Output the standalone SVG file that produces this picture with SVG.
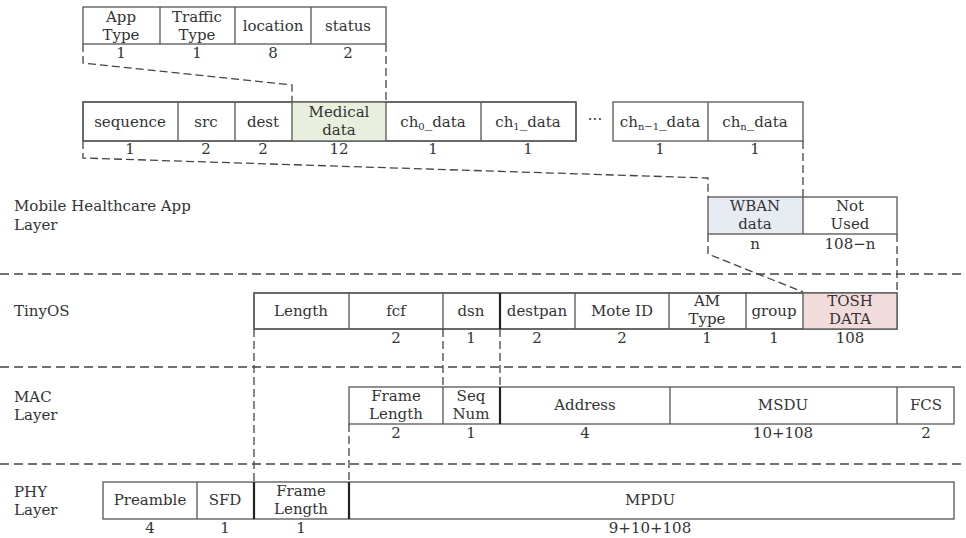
<svg xmlns="http://www.w3.org/2000/svg" width="966" height="538" viewBox="0 0 966 538">
  <style>
    text { font-family: "DejaVu Serif", "Liberation Serif", serif; font-size: 15px; fill: #333; text-anchor: middle; }
    text.lbl { text-anchor: start; }
    .cell { fill: #fff; stroke: #555; stroke-width: 1.3; }
    .frame { fill: none; stroke: #555; stroke-width: 1.3; }
    .div { stroke: #555; stroke-width: 1.3; }
    .thick { stroke: #222; stroke-width: 2.2; }
    .dash { fill: none; stroke: #444; stroke-width: 1.3; stroke-dasharray: 8 4; }
    .sep { fill: none; stroke: #444; stroke-width: 1.3; stroke-dasharray: 9 5; }
    .sub { font-size: 10px; }
    .green { fill: #e9efdd; }
    .blue { fill: #e7ecf3; }
    .pink { fill: #f2dcdb; }
  </style>

  <!-- layer separators -->
  <g id="separators">
    <line class="sep" x1="0" y1="274" x2="966" y2="274"/>
    <line class="sep" x1="0" y1="367" x2="966" y2="367"/>
    <line class="sep" x1="0" y1="464" x2="966" y2="464"/>
  </g>

  <!-- layer labels -->
  <g id="layer-labels">
    <text class="lbl" x="14" y="211">Mobile Healthcare App</text>
    <text class="lbl" x="14" y="230">Layer</text>
    <text class="lbl" x="14" y="316">TinyOS</text>
    <text class="lbl" x="14" y="402">MAC</text>
    <text class="lbl" x="14" y="420">Layer</text>
    <text class="lbl" x="14" y="497">PHY</text>
    <text class="lbl" x="14" y="515">Layer</text>
  </g>

  <!-- dashed expansion guides -->
  <g id="connectors">
    <polyline class="dash" points="83,44 83,63 292,85 292,102"/>
    <line class="dash" x1="386" y1="44" x2="386" y2="102"/>
    <polyline class="dash" points="83,141 83,158 708,178 708,197"/>
    <line class="dash" x1="803" y1="141" x2="803" y2="197"/>
    <polyline class="dash" points="708,234 708,254 803,292"/>
    <line class="dash" x1="897" y1="234" x2="897" y2="292"/>
    <line class="dash" x1="254" y1="329" x2="254" y2="482"/>
    <line class="dash" x1="443" y1="329" x2="443" y2="387"/>
    <line class="dash" x1="500" y1="329" x2="500" y2="387"/>
    <line class="dash" x1="349" y1="424" x2="349" y2="482"/>
  </g>

  <!-- medical data header -->
  <g id="medical-header">
    <rect class="cell" x="83" y="7" width="303" height="37"/>
    <line class="div" x1="160" y1="7" x2="160" y2="44"/>
    <line class="div" x1="235" y1="7" x2="235" y2="44"/>
    <line class="div" x1="311" y1="7" x2="311" y2="44"/>
    <text x="121" y="22">App</text>
    <text x="121" y="40">Type</text>
    <text x="197" y="22">Traffic</text>
    <text x="197" y="40">Type</text>
    <text x="273" y="31">location</text>
    <text x="348" y="31">status</text>
    <text x="121" y="58">1</text>
    <text x="197" y="58">1</text>
    <text x="273" y="58">8</text>
    <text x="348" y="58">2</text>
  </g>

  <!-- WBAN packet -->
  <g id="wban-packet">
    <rect class="cell" x="83" y="102" width="493" height="39"/>
    <rect class="green" x="292" y="102" width="94" height="39"/>
    <rect class="frame" x="83" y="102" width="493" height="39"/>
    <line class="div" x1="178" y1="102" x2="178" y2="141"/>
    <line class="div" x1="235" y1="102" x2="235" y2="141"/>
    <line class="div" x1="292" y1="102" x2="292" y2="141"/>
    <line class="div" x1="386" y1="102" x2="386" y2="141"/>
    <line class="div" x1="481" y1="102" x2="481" y2="141"/>
    <rect class="cell" x="613" y="102" width="190" height="39"/>
    <line class="div" x1="708" y1="102" x2="708" y2="141"/>
    <text x="130" y="127">sequence</text>
    <text x="206" y="127">src</text>
    <text x="263" y="127">dest</text>
    <text x="339" y="117">Medical</text>
    <text x="339" y="135">data</text>
    <text x="433" y="127">ch<tspan class="sub" dy="3">0</tspan><tspan dy="-3">_data</tspan></text>
    <text x="528" y="127">ch<tspan class="sub" dy="3">1</tspan><tspan dy="-3">_data</tspan></text>
    <text x="595" y="124">···</text>
    <text x="660" y="127">ch<tspan class="sub" dy="3">n−1</tspan><tspan dy="-3">_data</tspan></text>
    <text x="755" y="127">ch<tspan class="sub" dy="3">n</tspan><tspan dy="-3">_data</tspan></text>
    <text x="130" y="154">1</text>
    <text x="206" y="154">2</text>
    <text x="263" y="154">2</text>
    <text x="339" y="154">12</text>
    <text x="433" y="154">1</text>
    <text x="528" y="154">1</text>
    <text x="660" y="154">1</text>
    <text x="755" y="154">1</text>
  </g>

  <!-- app payload -->
  <g id="app-payload">
    <rect class="blue" x="708" y="197" width="95" height="37"/>
    <rect class="frame" x="708" y="197" width="189" height="37"/>
    <line class="div" x1="803" y1="197" x2="803" y2="234"/>
    <text x="755" y="211">WBAN</text>
    <text x="755" y="229">data</text>
    <text x="850" y="211">Not</text>
    <text x="850" y="229">Used</text>
    <text x="755" y="249">n</text>
    <text x="850" y="249">108−n</text>
  </g>

  <!-- TinyOS message -->
  <g id="tinyos-msg">
    <rect class="cell" x="254" y="293" width="643" height="36"/>
    <rect class="pink" x="803" y="293" width="94" height="36"/>
    <rect class="frame" x="254" y="293" width="643" height="36"/>
    <line class="div" x1="349" y1="293" x2="349" y2="329"/>
    <line class="div" x1="443" y1="293" x2="443" y2="329"/>
    <line class="thick" x1="500" y1="293" x2="500" y2="329"/>
    <line class="div" x1="575" y1="293" x2="575" y2="329"/>
    <line class="div" x1="669" y1="293" x2="669" y2="329"/>
    <line class="div" x1="746" y1="293" x2="746" y2="329"/>
    <line class="div" x1="803" y1="293" x2="803" y2="329"/>
    <text x="301" y="316">Length</text>
    <text x="396" y="316">fcf</text>
    <text x="471" y="316">dsn</text>
    <text x="537" y="316">destpan</text>
    <text x="622" y="316">Mote ID</text>
    <text x="707" y="306">AM</text>
    <text x="707" y="324">Type</text>
    <text x="774" y="316">group</text>
    <text x="850" y="306">TOSH</text>
    <text x="850" y="324">DATA</text>
    <text x="396" y="343">2</text>
    <text x="471" y="343">1</text>
    <text x="537" y="343">2</text>
    <text x="622" y="343">2</text>
    <text x="707" y="343">1</text>
    <text x="774" y="343">1</text>
    <text x="850" y="343">108</text>
  </g>

  <!-- MAC frame -->
  <g id="mac-frame">
    <rect class="cell" x="349" y="387" width="605" height="37"/>
    <line class="div" x1="443" y1="387" x2="443" y2="424"/>
    <line class="thick" x1="500" y1="387" x2="500" y2="424"/>
    <line class="div" x1="670" y1="387" x2="670" y2="424"/>
    <line class="div" x1="897" y1="387" x2="897" y2="424"/>
    <text x="396" y="401">Frame</text>
    <text x="396" y="419">Length</text>
    <text x="471" y="401">Seq</text>
    <text x="471" y="419">Num</text>
    <text x="585" y="410">Address</text>
    <text x="783" y="410">MSDU</text>
    <text x="926" y="410">FCS</text>
    <text x="396" y="438">2</text>
    <text x="471" y="438">1</text>
    <text x="585" y="438">4</text>
    <text x="783" y="438">10+108</text>
    <text x="926" y="438">2</text>
  </g>

  <!-- PHY frame -->
  <g id="phy-frame">
    <rect class="cell" x="103" y="482" width="851" height="37"/>
    <line class="div" x1="197" y1="482" x2="197" y2="519"/>
    <line class="thick" x1="254" y1="482" x2="254" y2="519"/>
    <line class="thick" x1="349" y1="482" x2="349" y2="519"/>
    <text x="150" y="505">Preamble</text>
    <text x="225" y="505">SFD</text>
    <text x="301" y="496">Frame</text>
    <text x="301" y="514">Length</text>
    <text x="650" y="505">MPDU</text>
    <text x="150" y="533">4</text>
    <text x="225" y="533">1</text>
    <text x="301" y="533">1</text>
    <text x="650" y="533">9+10+108</text>
  </g>
</svg>
